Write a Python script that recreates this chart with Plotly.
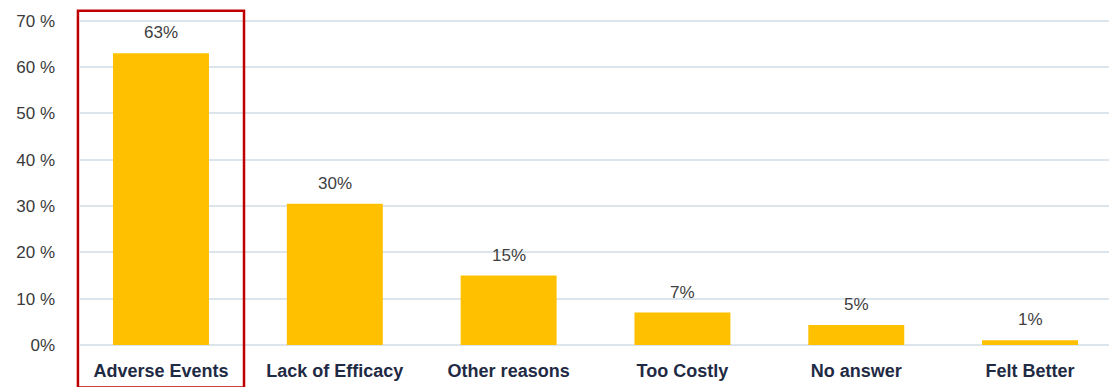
import plotly.graph_objects as go

categories = ["Adverse Events", "Lack of Efficacy", "Other reasons", "Too Costly", "No answer", "Felt Better"]
values = [63, 30.5, 15, 7, 4.3, 1]
labels = ["63%", "30%", "15%", "7%", "5%", "1%"]
y_ticks = [0, 10, 20, 30, 40, 50, 60, 70]
y_tick_text = ["0%", "10 %", "20 %", "30 %", "40 %", "50 %", "60 %", "70 %"]

FONT = "Arial, Liberation Sans, sans-serif"

fig = go.Figure()
fig.add_trace(go.Bar(
    x=list(range(len(categories))), y=values,
    marker=dict(color="#FFC000", line=dict(width=0)),
    width=0.552, hoverinfo="skip",
))
for i, (v, t) in enumerate(zip(values, labels)):
    fig.add_annotation(x=i, y=v, text=t, showarrow=False, yanchor="bottom",
                       yshift=9, font=dict(family=FONT, size=17, color="#404040"))

# highlight box around the first category
fig.add_shape(type="rect", xref="paper", yref="paper", x0=-0.002, x1=0.1594, y0=-0.13, y1=1.022,
              line=dict(color="#C00000", width=2.5), fillcolor="rgba(0,0,0,0)", layer="above")
fig.update_layout(
    width=1109, height=387,
    margin=dict(l=80, r=0, t=18, b=42),
    plot_bgcolor="white", paper_bgcolor="white",
    showlegend=False,
    font=dict(family=FONT, color="#1F2A44"),
)
fig.update_yaxes(range=[0, 70.6], tickvals=y_ticks, ticktext=y_tick_text,
                 showgrid=True, gridcolor="#DCE4EC", gridwidth=2, zeroline=True,
                 zerolinecolor="#DCE4EC", zerolinewidth=2,
                 tickfont=dict(family=FONT, size=17, color="#3A3A3A"), ticklabelstandoff=24)
fig.update_xaxes(range=[-0.466, 5.454], tickvals=list(range(len(categories))), ticktext=categories,
                 showline=False, showgrid=False, zeroline=False,
                 tickfont=dict(family=FONT, size=18, color="#1F2A44", weight="bold"),
                 ticklabelstandoff=13)
fig.write_html("out.html", config={"displayModeBar": False},
               post_script="document.body.style.margin='0';document.body.style.overflow='hidden';")
